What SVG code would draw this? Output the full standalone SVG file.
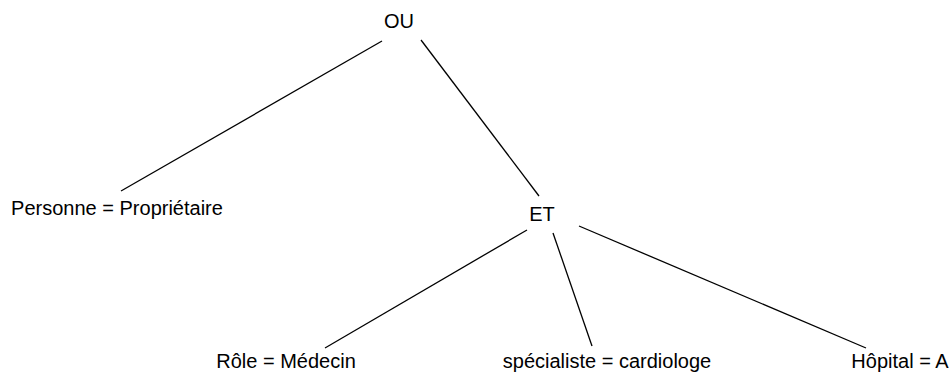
<svg xmlns="http://www.w3.org/2000/svg" width="952" height="378" viewBox="0 0 952 378">
<style>
.t{font-family:"Liberation Sans",Arial,sans-serif;font-size:20px;fill:#000;text-anchor:middle}
.e{stroke:#000;stroke-width:1.3;fill:none}
</style>
<rect width="952" height="378" fill="#fff"/>
<g id="connectors">
<line class="e" x1="382" y1="41" x2="121" y2="191"/>
<line class="e" x1="421" y1="40" x2="539" y2="196"/>
<line class="e" x1="527" y1="230" x2="325" y2="348"/>
<line class="e" x1="553" y1="233" x2="592" y2="346"/>
<line class="e" x1="579" y1="226" x2="866" y2="348"/>
</g>
<g id="ou"><text class="t" x="399" y="28">OU</text></g>
<g id="personne"><text class="t" x="117" y="215">Personne = Propriétaire</text></g>
<g id="et"><text class="t" x="542" y="221">ET</text></g>
<g id="role"><text class="t" x="286" y="368">Rôle = Médecin</text></g>
<g id="specialiste"><text class="t" x="607" y="368">spécialiste = cardiologe</text></g>
<g id="hopital"><text class="t" x="900" y="368">Hôpital = A</text></g>
</svg>
